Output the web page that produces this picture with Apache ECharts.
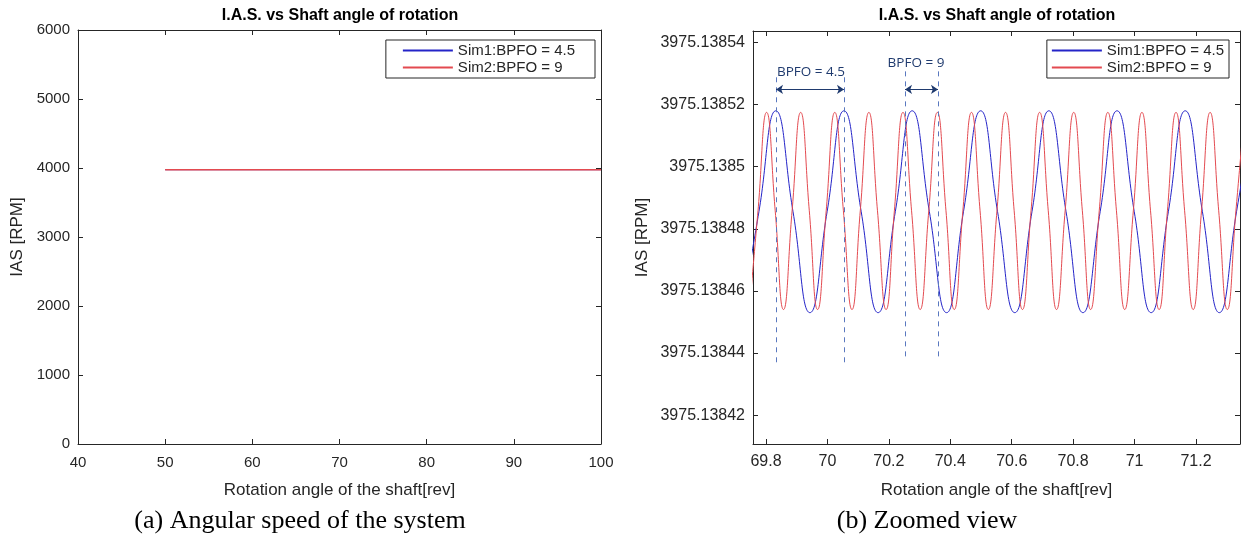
<!DOCTYPE html>
<html><head><meta charset="utf-8">
<script src="https://cdn.jsdelivr.net/npm/echarts@6/dist/echarts.min.js"></script>
<style>html,body{margin:0;padding:0;background:#fff}#c{width:1241px;height:549px}</style>
</head><body><div id="c"></div>
<script>
// ---------- data ----------
const seriesNames = ['Sim1:BPFO = 4.5', 'Sim2:BPFO = 9'];
const panelTitles = ['I.A.S. vs Shaft angle of rotation', 'I.A.S. vs Shaft angle of rotation'];
const captions = ['(a) Angular speed of the system', '(b) Zoomed view'];
const xName = 'Rotation angle of the shaft[rev]';
const yName = 'IAS [RPM]';

// panel (a): full view
const sim1Full = [[50, 3975.1385], [100, 3975.1385]];
const sim2Full = [[50, 3975.1385], [100, 3975.1385]];

// panel (b): zoomed view (peaks / mid crossings / troughs)
const sim1Zoom = [[69.721,3975.138453],[69.777,3975.1384855],[69.832,3975.138518],[69.888,3975.1384855],[69.943,3975.138453],[69.999,3975.1384855],[70.054,3975.138518],[70.110,3975.1384855],[70.165,3975.138453],[70.221,3975.1384855],[70.276,3975.138518],[70.332,3975.1384855],[70.388,3975.138453],[70.443,3975.1384855],[70.499,3975.138518],[70.554,3975.1384855],[70.610,3975.138453],[70.666,3975.1384855],[70.721,3975.138518],[70.777,3975.1384855],[70.832,3975.138453],[70.888,3975.1384855],[70.943,3975.138518],[70.999,3975.1384855],[71.054,3975.138453],[71.110,3975.1384855],[71.165,3975.138518],[71.221,3975.1384855],[71.276,3975.138453],[71.332,3975.1384855],[71.387,3975.138518]];
const sim2Zoom = [[69.746,3975.138454],[69.774,3975.1384858],[69.802,3975.1385175],[69.830,3975.1384858],[69.857,3975.138454],[69.885,3975.1384858],[69.913,3975.1385175],[69.941,3975.1384858],[69.968,3975.138454],[69.996,3975.1384858],[70.024,3975.1385175],[70.052,3975.1384858],[70.080,3975.138454],[70.107,3975.1384858],[70.135,3975.1385175],[70.163,3975.1384858],[70.191,3975.138454],[70.218,3975.1384858],[70.246,3975.1385175],[70.274,3975.1384858],[70.302,3975.138454],[70.330,3975.1384858],[70.358,3975.1385175],[70.386,3975.1384858],[70.413,3975.138454],[70.441,3975.1384858],[70.469,3975.1385175],[70.497,3975.1384858],[70.524,3975.138454],[70.552,3975.1384858],[70.580,3975.1385175],[70.608,3975.1384858],[70.635,3975.138454],[70.663,3975.1384858],[70.691,3975.1385175],[70.719,3975.1384858],[70.746,3975.138454],[70.774,3975.1384858],[70.802,3975.1385175],[70.830,3975.1384858],[70.857,3975.138454],[70.885,3975.1384858],[70.913,3975.1385175],[70.941,3975.1384858],[70.968,3975.138454],[70.996,3975.1384858],[71.024,3975.1385175],[71.052,3975.1384858],[71.080,3975.138454],[71.107,3975.1384858],[71.135,3975.1385175],[71.163,3975.1384858],[71.191,3975.138454],[71.218,3975.1384858],[71.246,3975.1385175],[71.274,3975.1384858],[71.302,3975.138454],[71.330,3975.1384858],[71.358,3975.1385175]];

const zoomXTicks = [69.8, 70, 70.2, 70.4, 70.6, 70.8, 71, 71.2];
const zoomYTicks = [3975.13842, 3975.13844, 3975.13846, 3975.13848, 3975.1385, 3975.13852, 3975.13854];

// annotations (data coordinates)
const markerX = [69.8326, 70.054, 70.2526, 70.360];
const markerText = ['BPFO = 4.5', 'BPFO = 9'];

// ---------- styles ----------
const INK = '#262626';
const BLUE = '#2424c8';
const RED = '#e34a50';
const ANN = '#1f3a6e';
const DASH = '#5a78bf';
const FONT = 'Liberation Sans, Arial, sans-serif';

function baseAxis(extra) {
  return Object.assign({
    type: 'value', splitLine: { show: false },
    axisLine: { show: true, onZero: false, lineStyle: { color: INK, width: 1 } },
    axisTick: { show: true, inside: true, length: 5, lineStyle: { color: INK } },
    axisLabel: { color: INK, fontSize: 15, fontFamily: FONT, margin: 8, formatter: v => String(v) },
  }, extra);
}
const fmtY = v => Number(v.toFixed(5)).toString();
const fmtX = v => Number(v.toFixed(1)).toString();
const nameStyle = { color: INK, fontSize: 17, fontFamily: FONT };

const ZX = { min: 69.7577, max: 71.3433 };
const ZY = { min: 3975.1384107, max: 3975.1385437 };

const legendBase = {
  data: seriesNames, orient: 'vertical', top: 40, itemGap: 2,
  itemWidth: 50, itemHeight: 14, borderColor: INK, borderWidth: 1, backgroundColor: '#fff',
  itemStyle: { opacity: 0 },
  textStyle: { color: INK, fontSize: 15, fontFamily: FONT }
};

const option = {
  animation: false,
  backgroundColor: '#fff',
  grid: [
    { left: 78, top: 30, width: 523, height: 414 },
    { left: 753, top: 31, width: 487, height: 413 }
  ],
  xAxis: [
    baseAxis({ gridIndex: 0, min: 40, max: 100, interval: 10, position: 'bottom',
      name: xName, nameLocation: 'middle', nameGap: 38, nameTextStyle: nameStyle,
      axisLabel: { color: INK, fontSize: 15, fontFamily: FONT, margin: 11, formatter: v => String(v) } }),
    baseAxis({ gridIndex: 0, min: 40, max: 100, interval: 10, position: 'top', axisLabel: { show: false } }),
    baseAxis({ gridIndex: 1, min: ZX.min, max: ZX.max, position: 'bottom',
      name: xName, nameLocation: 'middle', nameGap: 38, nameTextStyle: nameStyle,
      axisTick: { show: true, inside: true, length: 5, lineStyle: { color: INK }, customValues: zoomXTicks },
      axisLabel: { color: INK, fontSize: 16, fontFamily: FONT, margin: 10, customValues: zoomXTicks, formatter: fmtX } }),
    baseAxis({ gridIndex: 1, min: ZX.min, max: ZX.max, position: 'top',
      axisTick: { show: true, inside: true, length: 5, lineStyle: { color: INK }, customValues: zoomXTicks },
      axisLabel: { show: false } })
  ],
  yAxis: [
    baseAxis({ gridIndex: 0, min: 0, max: 6000, interval: 1000, position: 'left',
      name: yName, nameLocation: 'middle', nameGap: 52, nameTextStyle: nameStyle }),
    baseAxis({ gridIndex: 0, min: 0, max: 6000, interval: 1000, position: 'right', axisLabel: { show: false } }),
    baseAxis({ gridIndex: 1, min: ZY.min, max: ZY.max, position: 'left',
      name: yName, nameLocation: 'middle', nameGap: 102, nameTextStyle: nameStyle,
      axisTick: { show: true, inside: true, length: 5, lineStyle: { color: INK }, customValues: zoomYTicks },
      axisLabel: { color: INK, fontSize: 16, fontFamily: FONT, margin: 8, customValues: zoomYTicks, formatter: fmtY } }),
    baseAxis({ gridIndex: 1, min: ZY.min, max: ZY.max, position: 'right',
      axisTick: { show: true, inside: true, length: 5, lineStyle: { color: INK }, customValues: zoomYTicks },
      axisLabel: { show: false } })
  ],
  legend: [
    Object.assign({}, legendBase, { right: 646, padding: [3, 20, 3, 16] }),
    Object.assign({}, legendBase, { right: 12, padding: [3, 5, 3, 4] })
  ],
  graphic: [
    { type: 'text', x: 340, y: 16, style: { text: panelTitles[0], font: 'bold 16px ' + FONT, fill: '#000', textAlign: 'center', textVerticalAlign: 'middle' } },
    { type: 'text', x: 997, y: 16, style: { text: panelTitles[1], font: 'bold 16px ' + FONT, fill: '#000', textAlign: 'center', textVerticalAlign: 'middle' } },
    { type: 'text', x: 300, y: 521, style: { text: captions[0], font: '26px Liberation Serif, Times New Roman, serif', fill: '#000', textAlign: 'center', textVerticalAlign: 'middle' } },
    { type: 'text', x: 927, y: 521, style: { text: captions[1], font: '26px Liberation Serif, Times New Roman, serif', fill: '#000', textAlign: 'center', textVerticalAlign: 'middle' } }
  ],
  series: [
    { name: seriesNames[0], type: 'line', xAxisIndex: 0, yAxisIndex: 0, data: sim1Full, symbol: 'none',
      lineStyle: { color: BLUE, width: 1 }, itemStyle: { color: BLUE } },
    { name: seriesNames[1], type: 'line', xAxisIndex: 0, yAxisIndex: 0, data: sim2Full, symbol: 'none',
      lineStyle: { color: RED, width: 1.6 }, itemStyle: { color: RED } },
    { name: seriesNames[0], type: 'line', xAxisIndex: 2, yAxisIndex: 2, data: sim1Zoom, symbol: 'none', smooth: 0.5,
      lineStyle: { color: BLUE, width: 1 }, itemStyle: { color: BLUE },
      markLine: {
        silent: true, symbol: ['none', 'none'], label: { show: false },
        lineStyle: { type: [5, 5], color: DASH, width: 1 },
        data: [
          [{ coord: [markerX[0], 3975.1385288] }, { coord: [markerX[0], 3975.1384364] }],
          [{ coord: [markerX[1], 3975.1385288] }, { coord: [markerX[1], 3975.1384364] }],
          [{ coord: [markerX[2], 3975.1385307] }, { coord: [markerX[2], 3975.1384384] }],
          [{ coord: [markerX[3], 3975.1385307] }, { coord: [markerX[3], 3975.1384384] }],
          [{ coord: [markerX[0], 3975.1385249], symbol: 'arrow', symbolSize: 7, lineStyle: { type: 'solid', color: ANN, width: 1.2 } },
           { coord: [markerX[1], 3975.1385249], symbol: 'arrow', symbolSize: 7 }],
          [{ coord: [markerX[2], 3975.1385249], symbol: 'arrow', symbolSize: 7, lineStyle: { type: 'solid', color: ANN, width: 1.2 } },
           { coord: [markerX[3], 3975.1385249], symbol: 'arrow', symbolSize: 7 }]
        ]
      },
      markPoint: {
        silent: true, symbol: 'circle', symbolSize: 1, itemStyle: { color: 'rgba(0,0,0,0)' },
        label: { show: true, position: 'inside', color: ANN, fontSize: 13.5, fontFamily: 'Open Sans, Noto Sans, sans-serif' },
        data: [
          { coord: [69.9465, 3975.1385305], label: { formatter: markerText[0] } },
          { coord: [70.2884, 3975.1385332], label: { formatter: markerText[1] } }
        ]
      }
    },
    { name: seriesNames[1], type: 'line', xAxisIndex: 2, yAxisIndex: 2, data: sim2Zoom, symbol: 'none', smooth: 0.5,
      lineStyle: { color: RED, width: 1 }, itemStyle: { color: RED } }
  ]
};
const chart = echarts.init(document.getElementById('c'), null, { renderer: 'canvas' });
chart.setOption(option);
</script></body></html>
